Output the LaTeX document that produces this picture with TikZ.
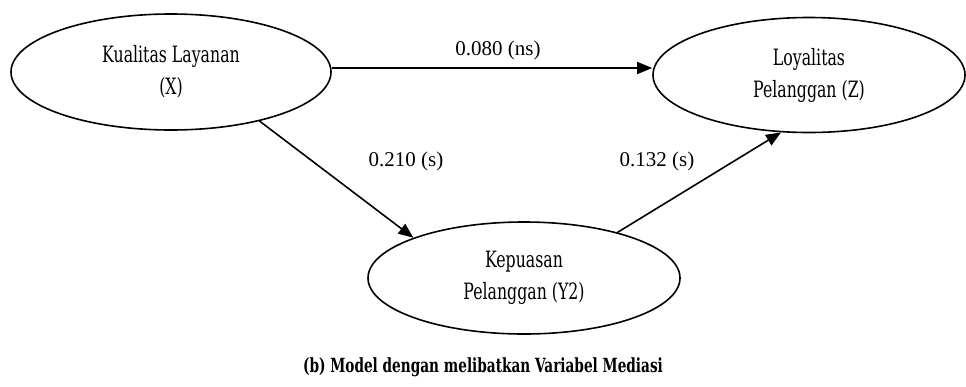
\documentclass[tikz,border=0pt]{standalone}
\usepackage{fontspec}
\setmainfont{Liberation Serif}
\newfontfamily\nodefont[FakeStretch=0.7]{DejaVu Serif}
\usetikzlibrary{shapes.geometric,arrows.meta}
\begin{document}
\begin{tikzpicture}[x=1pt,y=-1pt,
  var/.style={ellipse,draw,line width=1.6pt,inner sep=0pt,align=center,
    font=\nodefont\fontsize{22.5}{32}\selectfont},
  pathline/.style={line width=1.6pt,-{Triangle[length=15pt,width=12pt]}},
  coef/.style={inner sep=0pt,font=\fontsize{21}{24}\selectfont},
  captext/.style={inner sep=0pt,font=\nodefont\bfseries\fontsize{19.5}{23}\selectfont}]
\useasboundingbox (0,0) rectangle (966,386);
\node[var,minimum width=320pt,minimum height=116pt] (X) at (171,72) {Kualitas Layanan\\(X)};
\node[var,minimum width=312pt,minimum height=115pt] (Z) at (809,75) {Loyalitas\\Pelanggan (Z)};
\node[var,minimum width=312pt,minimum height=112pt] (Y) at (524,278) {Kepuasan\\Pelanggan (Y2)};
\coordinate (xs) at ([yshift=4pt]X.east);
\draw[pathline] (xs) -- (xs -| Z.west);
\draw[pathline] (X.-29) -- (Y.160);
\draw[pathline] (Y.26) -- (Z.-116);
\node[coef] (l1) at (498,50) {0.080 (ns)};
\node[coef] (l2) at (406,161) {0.210 (s)};
\node[coef] (l3) at (657,161) {0.132 (s)};
\node[captext] (cap) at (483,367) {(b) Model dengan melibatkan Variabel Mediasi};
\end{tikzpicture}
\end{document}
